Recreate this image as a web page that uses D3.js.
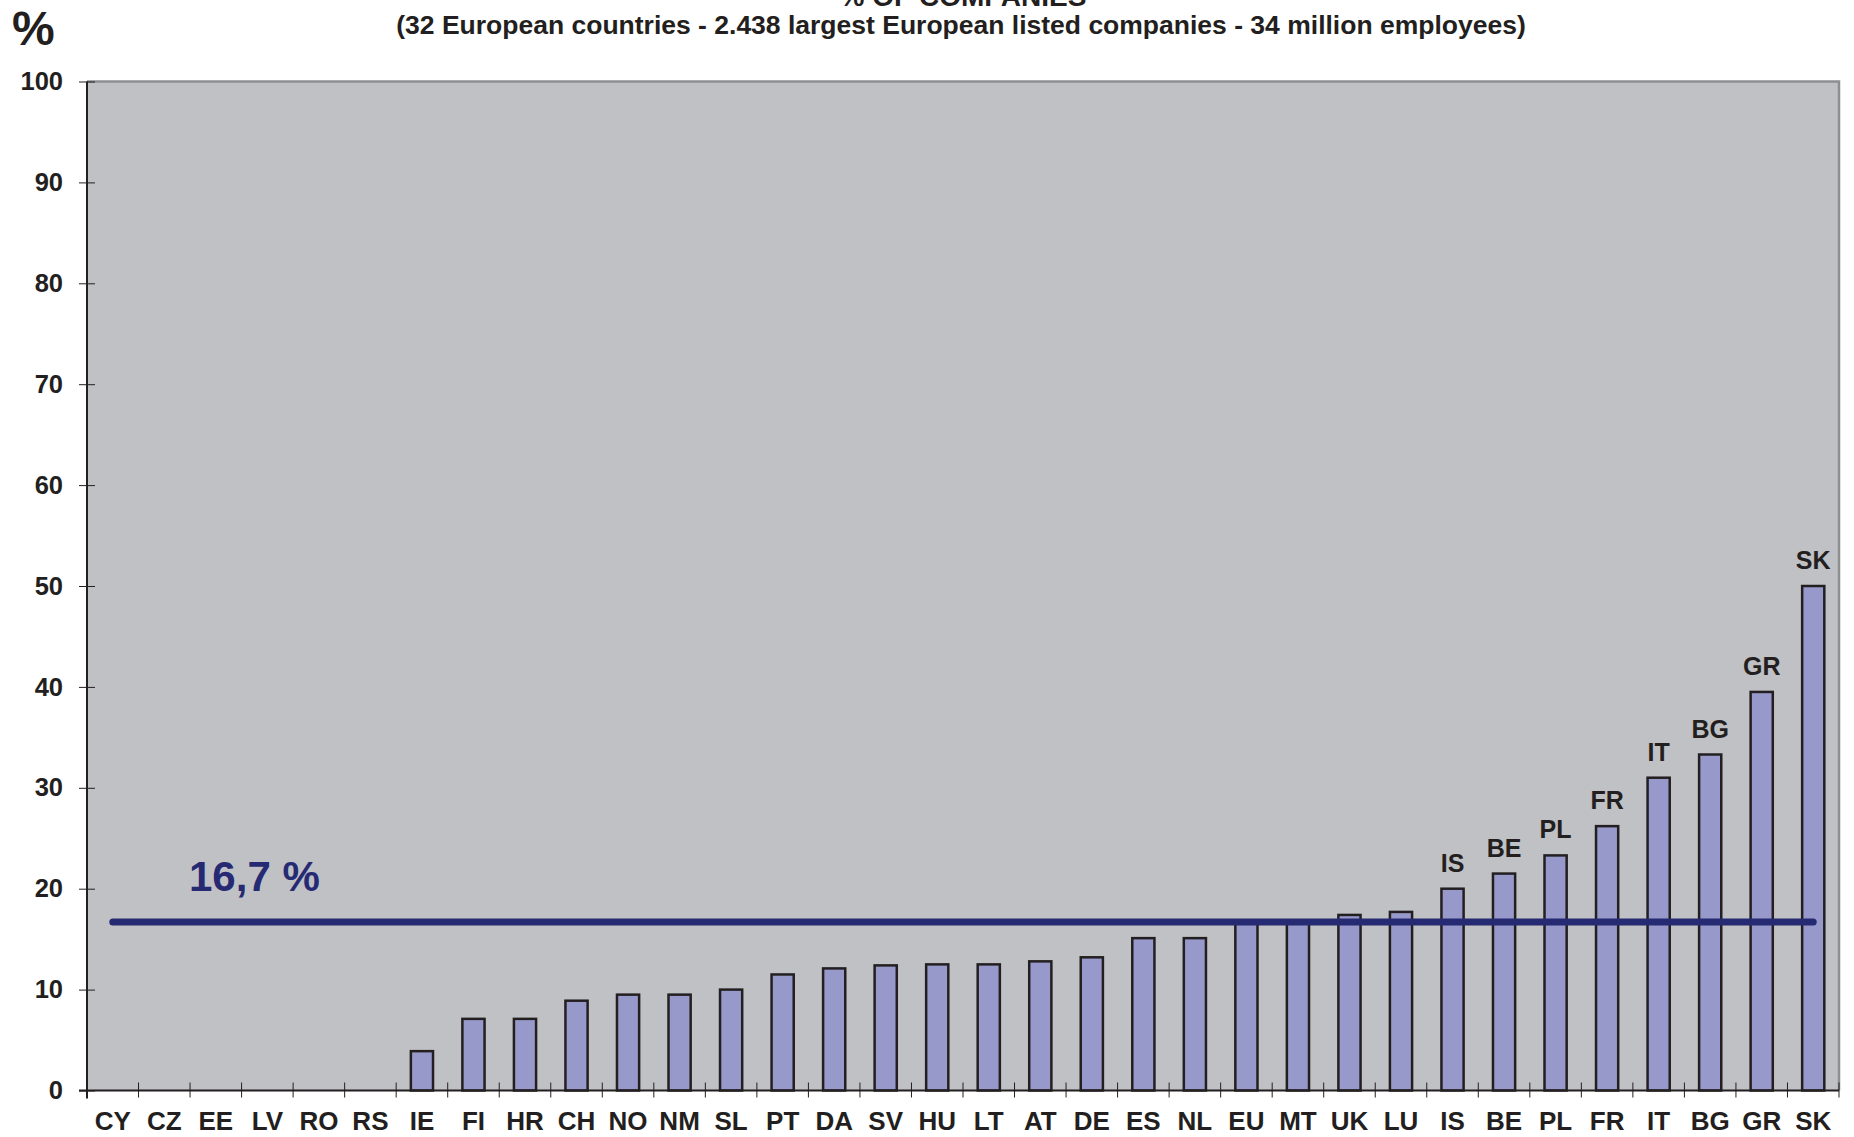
<!DOCTYPE html>
<html>
<head>
<meta charset="utf-8">
<script src="https://cdn.jsdelivr.net/npm/d3@7"></script>
<style>
  html, body { margin: 0; padding: 0; background: #ffffff; }
  svg { display: block; }
  text { font-family: "Liberation Sans", Arial, sans-serif; font-weight: bold; fill: #231f20; }
</style>
</head>
<body>
<svg id="chart" width="1854" height="1137"></svg>
<script>
// Country codes, ordered by share of companies
const categories = ["CY","CZ","EE","LV","RO","RS","IE","FI","HR","CH","NO","NM","SL","PT","DA","SV",
  "HU","LT","AT","DE","ES","NL","EU","MT","UK","LU","IS","BE","PL","FR","IT","BG","GR","SK"];
// Share of companies (%) per country
const values = [0,0,0,0,0,0,3.9,7.1,7.1,8.9,9.5,9.5,10.0,11.5,12.1,12.4,
  12.5,12.5,12.8,13.2,15.1,15.1,16.7,16.7,17.4,17.7,20.0,21.5,23.3,26.2,31.0,33.3,39.5,50.0];
// Bars carrying a country label above them
const labelled = ["IS","BE","PL","FR","IT","BG","GR","SK"];
// European average
const average = 16.7;
const averageLabel = "16,7 %";
const yTicks = [0,10,20,30,40,50,60,70,80,90,100];

const title = "% OF COMPANIES";
const subtitle = "(32 European countries - 2.438 largest European listed companies - 34 million employees)";

const svg = d3.select("#chart");
const plot = { left: 87, right: 1839, top: 81.5, bottom: 1090.5 };

const x = d3.scaleBand()
  .domain(categories)
  .range([plot.left, plot.right])
  .paddingInner(0.57)
  .paddingOuter(0.285);

const y = d3.scaleLinear()
  .domain([0, 100])
  .range([plot.bottom, plot.top]);

// Plot background
svg.append("rect")
  .attr("x", plot.left).attr("y", plot.top)
  .attr("width", plot.right - plot.left).attr("height", plot.bottom - plot.top)
  .attr("fill", "#c0c1c5");

// Top and right frame
svg.append("path")
  .attr("d", `M${plot.left},${plot.top}H${plot.right}V${plot.bottom}`)
  .attr("fill", "none").attr("stroke", "#8d8e92").attr("stroke-width", 2.5);

// Bars
const data = categories.map((c, i) => ({ c, v: values[i] }));
svg.append("g").selectAll("rect")
  .data(data.filter(d => d.v > 0))
  .join("rect")
  .attr("x", d => x(d.c))
  .attr("y", d => y(d.v))
  .attr("width", x.bandwidth())
  .attr("height", d => y(0) - y(d.v))
  .attr("fill", "#9899cb")
  .attr("stroke", "#231f20")
  .attr("stroke-width", 2.5);

// Country labels above the highest bars
svg.append("g").selectAll("text")
  .data(data.filter(d => labelled.includes(d.c)))
  .join("text")
  .attr("x", d => x(d.c) + x.bandwidth() / 2)
  .attr("y", d => y(d.v) - 17)
  .attr("text-anchor", "middle")
  .attr("font-size", 25)
  .text(d => d.c);

// Y axis
const yAxis = svg.append("g")
  .attr("transform", `translate(${plot.left},0)`)
  .call(d3.axisLeft(y).tickValues(yTicks).tickSize(8).tickPadding(16).tickFormat(d3.format("d")));
yAxis.select(".domain").attr("stroke", "#231f20").attr("stroke-width", 2)
  .attr("d", `M0,${plot.top}V${plot.bottom + 8}`);
yAxis.selectAll(".tick line").attr("stroke", "#231f20").attr("x2", -8).attr("x1", 8);
yAxis.selectAll(".tick text")
  .attr("font-family", "'DejaVu Sans', sans-serif")
  .attr("font-weight", "bold")
  .attr("font-size", 25.5)
  .attr("fill", "#231f20");

// X axis
const xAxis = svg.append("g")
  .attr("transform", `translate(0,${plot.bottom})`)
  .call(d3.axisBottom(x).tickSize(0).tickPadding(21));
xAxis.select(".domain").attr("stroke", "#231f20").attr("stroke-width", 2)
  .attr("d", `M${plot.left - 8},0H${plot.right}`);
xAxis.selectAll(".tick text")
  .attr("font-family", "'Liberation Sans', Arial, sans-serif")
  .attr("font-weight", "bold")
  .attr("font-size", 26)
  .attr("fill", "#231f20")
  .attr("dy", "0.71em");
// Separators between categories
xAxis.append("g").selectAll("line")
  .data(categories)
  .join("line")
  .attr("x1", d => x(d) + x.bandwidth() / 2 + x.step() / 2)
  .attr("x2", d => x(d) + x.bandwidth() / 2 + x.step() / 2)
  .attr("y1", -8).attr("y2", 7)
  .attr("stroke", "#231f20").attr("stroke-width", 1);

// Average line
svg.append("line")
  .attr("x1", x(categories[0]) + x.bandwidth() / 2)
  .attr("x2", x(categories[categories.length - 1]) + x.bandwidth() / 2)
  .attr("y1", y(average)).attr("y2", y(average))
  .attr("stroke", "#262a73").attr("stroke-width", 7).attr("stroke-linecap", "round");

svg.append("text")
  .attr("x", 189).attr("y", y(average) - 31)
  .attr("font-size", 42)
  .style("fill", "#262a73")
  .text(averageLabel);

// Titles
svg.append("text")
  .attr("x", 963).attr("y", 6)
  .attr("text-anchor", "middle")
  .attr("font-size", 28)
  .text(title);

svg.append("text")
  .attr("x", 961).attr("y", 34)
  .attr("text-anchor", "middle")
  .attr("font-size", 26.5)
  .text(subtitle);

svg.append("text")
  .attr("x", 12).attr("y", 45)
  .attr("font-size", 48)
  .text("%");
</script>
</body>
</html>
